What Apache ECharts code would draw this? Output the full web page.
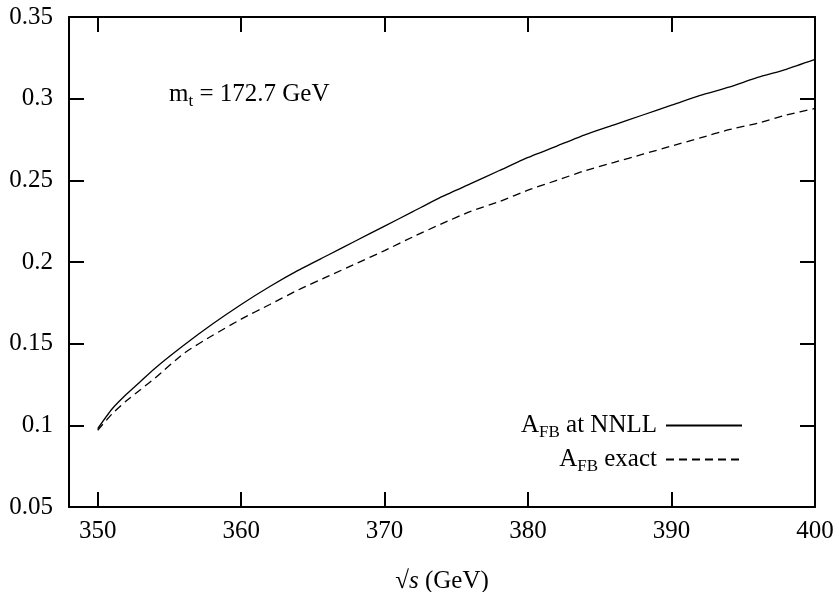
<!DOCTYPE html>
<html>
<head>
<meta charset="utf-8">
<script src="https://cdn.jsdelivr.net/npm/echarts@6/dist/echarts.min.js"></script>
<style>html,body{margin:0;padding:0;background:#fff}#c{width:839px;height:592px}</style>
</head>
<body>
<div id="c"></div>
<script>
var sqrtS = [350,351,352,353,354,356,358,360,362,364,366,368,370,372,374,376,378,380,382,384,386,388,390,392,394,396,398,400];
var afbNNLL = [0.098,0.110,0.119,0.127,0.135,0.149,0.162,0.174,0.185,0.195,0.204,0.213,0.222,0.231,0.240,0.248,0.256,0.264,0.271,0.278,0.284,0.290,0.296,0.302,0.307,0.313,0.318,0.324];
var afbExact = [0.097,0.107,0.115,0.122,0.129,0.144,0.155,0.165,0.174,0.183,0.191,0.199,0.207,0.2155,0.2235,0.231,0.237,0.244,0.250,0.256,0.261,0.266,0.271,0.276,0.281,0.285,0.290,0.294];
var xTicks = [350,360,370,380,390,400];
var yTicks = [0.05,0.1,0.15,0.2,0.25,0.3,0.35];

function pairs(xs, ys){ return xs.map(function(x,i){return [x, ys[i]];}); }

var FONT = 'Liberation Serif';
var FS = 25, SUB = 17;
var axisLine = {show:true, lineStyle:{color:'#000', width:2}};
var tick = {show:true, inside:true, length:15, lineStyle:{color:'#000', width:2}};

var chart = echarts.init(document.getElementById('c'), null, {renderer:'canvas'});
chart.setOption({
  animation:false,
  backgroundColor:'#fff',
  grid:{left:69, right:24, top:17, bottom:85, containLabel:false, outerBoundsMode:'none'},
  xAxis:[{
    type:'value', min:348, max:400, position:'bottom',
    axisLine:axisLine,
    axisTick:Object.assign({customValues:xTicks}, tick),
    axisLabel:{customValues:xTicks, fontFamily:FONT, fontSize:FS, color:'#000', margin:12},
    splitLine:{show:false},
    name:'√{i|s} (GeV)', nameLocation:'middle', nameGap:62,
    nameTextStyle:{fontFamily:FONT, fontSize:FS, color:'#000', rich:{i:{fontFamily:FONT, fontStyle:'italic', fontSize:FS, color:'#000'}}}
  },{
    type:'value', min:348, max:400, position:'top',
    axisLine:axisLine,
    axisTick:Object.assign({customValues:xTicks}, tick),
    axisLabel:{show:false}, splitLine:{show:false}
  }],
  yAxis:[{
    type:'value', min:0.05, max:0.35, position:'left',
    axisLine:axisLine,
    axisTick:Object.assign({customValues:yTicks}, tick),
    axisLabel:{customValues:yTicks, fontFamily:FONT, fontSize:FS, color:'#000', margin:16},
    splitLine:{show:false}
  },{
    type:'value', min:0.05, max:0.35, position:'right',
    axisLine:axisLine,
    axisTick:Object.assign({customValues:yTicks}, tick),
    axisLabel:{show:false}, splitLine:{show:false}
  }],
  legend:{
    right:91, top:408, orient:'vertical', align:'right', itemWidth:76, itemHeight:14, itemGap:6,
    itemStyle:{color:'rgba(0,0,0,0)', borderWidth:0},
    textStyle:{fontFamily:FONT, fontSize:FS, color:'#000', padding:[0,4,0,0],
      rich:{a:{fontFamily:FONT, fontSize:FS, color:'#000'}, s:{fontFamily:FONT, fontSize:SUB, color:'#000', padding:[14,0,0,0]}}},
    formatter:function(n){ return n==='NNLL' ? '{a|A}{s|FB}{a| at NNLL}' : '{a|A}{s|FB}{a| exact}'; },
    data:['NNLL','exact']
  },
  graphic:[{
    type:'text', left:169, top:82,
    style:{text:'{a|m}{s|t}{a| = 172.7 GeV}', rich:{a:{fontFamily:FONT, fontSize:FS, fill:'#000'}, s:{fontFamily:FONT, fontSize:SUB, fill:'#000', padding:[14,0,0,0]}}}
  }],
  series:[{
    name:'NNLL', type:'line', data:pairs(sqrtS, afbNNLL), showSymbol:false, symbol:'none', symbolSize:0, smooth:0.2,
    lineStyle:{color:'#000', width:1.3, type:'solid'}, itemStyle:{color:'#000'}
  },{
    name:'exact', type:'line', data:pairs(sqrtS, afbExact), showSymbol:false, symbol:'none', symbolSize:0, smooth:0.2,
    lineStyle:{color:'#000', width:1.3, type:[8,5]}, itemStyle:{color:'#000'}
  }]
});
</script>
</body>
</html>
